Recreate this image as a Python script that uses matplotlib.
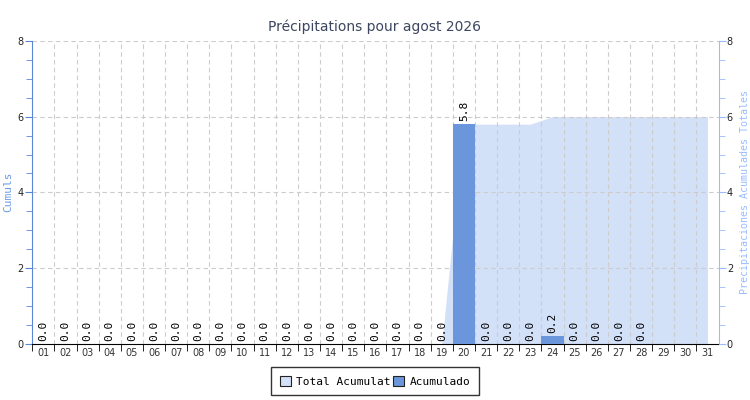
import matplotlib
matplotlib.use('Agg')
import matplotlib.pyplot as plt
from matplotlib.patches import Patch
from matplotlib.ticker import MultipleLocator, FixedLocator

# ---------- данные ----------
days = [f"{d:02d}" for d in range(1, 32)]
daily = [0.0] * 19 + [5.8, 0.0, 0.0, 0.0, 0.2, 0.0, 0.0, 0.0, 0.0]  # days 01..28
total = [0.0] * 19 + [5.8, 5.8, 5.8, 5.8] + [6.0] * 8             # days 01..31

bar_col = '#6b96dc'
area_col = '#d2e0f8'
mono = 'DejaVu Sans Mono'

fig = plt.figure(figsize=(7.5, 4.0), dpi=100)
ax = fig.add_axes([0.043, 0.14, 0.915, 0.758])
ax2 = ax.twinx()
ax.set_zorder(ax2.get_zorder() + 1)
ax.patch.set_visible(False)

x = list(range(1, 32))
ax2.fill_between(x, total, color=area_col, lw=0, zorder=1)
ax2.set_ylim(0, 8)

xb = x[:len(daily)]
ax.bar(xb, daily, width=1.0, color=bar_col, zorder=3)
for xi, v in zip(xb, daily):
    ax.text(xi, v + 0.08, f"{v:.1f}", rotation=90, ha='center', va='bottom',
            fontsize=8, family=mono, color='black', zorder=4)

ax.set_xlim(0.5, 31.5)
ax.set_ylim(0, 8)
ax.set_xticks(x)
ax.set_xticklabels(days, fontsize=7, color='#333333')
ax.tick_params(axis='x', length=0, pad=3)
ax.xaxis.set_minor_locator(FixedLocator([i + 0.5 for i in range(0, 31)]))
ax.tick_params(axis='x', which='minor', length=5, color='black', direction='out')

ax.yaxis.set_major_locator(MultipleLocator(2))
ax.yaxis.set_minor_locator(MultipleLocator(0.5))
ax.tick_params(axis='y', which='both', color='#5b86d6', labelsize=7,
               labelcolor='#222222', pad=1)
ax.tick_params(axis='y', which='major', length=5)
ax.tick_params(axis='y', which='minor', length=4)

ax2.yaxis.set_major_locator(MultipleLocator(2))
ax2.yaxis.set_minor_locator(MultipleLocator(0.5))
ax2.tick_params(axis='y', which='both', color='#99bbff', labelsize=7,
                labelcolor='#222222', pad=1)
ax2.tick_params(axis='y', which='major', length=5)
ax2.tick_params(axis='y', which='minor', length=4)

# grid
for gx in [i + 0.5 for i in range(1, 31)]:
    ax.axvline(gx, color='#cccccc', ls=(0, (4, 3)), lw=0.8, zorder=0)
for gy in [2, 4, 6, 8]:
    ax.axhline(gy, color='#cccccc', ls=(0, (4, 3)), lw=0.8, zorder=0)

for a in (ax, ax2):
    a.spines['top'].set_visible(False)
ax.spines['left'].set_color('#5b86d6')
ax.spines['right'].set_visible(False)
ax2.spines['left'].set_visible(False)
ax2.spines['right'].set_color('#99bbff')
ax.spines['bottom'].set_color('black')
ax2.spines['bottom'].set_visible(False)

# подписи осей
fig.text(0.011, 0.52, 'Cumuls', color='#6a9be6', fontsize=8, family=mono,
         rotation=90, ha='center', va='center')
fig.text(0.993, 0.52, 'Precipitaciones Acumulades Totales', color='#99bbff',
         fontsize=7.2, family=mono, rotation=90, ha='center', va='center')

fig.suptitle('Précipitations pour agost 2026', x=0.5, y=0.952, fontsize=10, color='#3c4660')

handles = [Patch(facecolor=area_col, edgecolor='#222222', lw=0.8),
           Patch(facecolor=bar_col, edgecolor='#222222', lw=0.8)]
leg = fig.legend(handles, ['Total Acumulat', 'Acumulado'], loc='center',
                 bbox_to_anchor=(0.5, 0.047), ncol=2, fancybox=False,
                 edgecolor='black', prop={'family': mono, 'size': 8},
                 handlelength=1.0, handleheight=1.0, handletextpad=0.5,
                 columnspacing=0.2, borderpad=0.8)
leg.get_frame().set_linewidth(1.0)

fig.savefig('out.png', dpi=100)
